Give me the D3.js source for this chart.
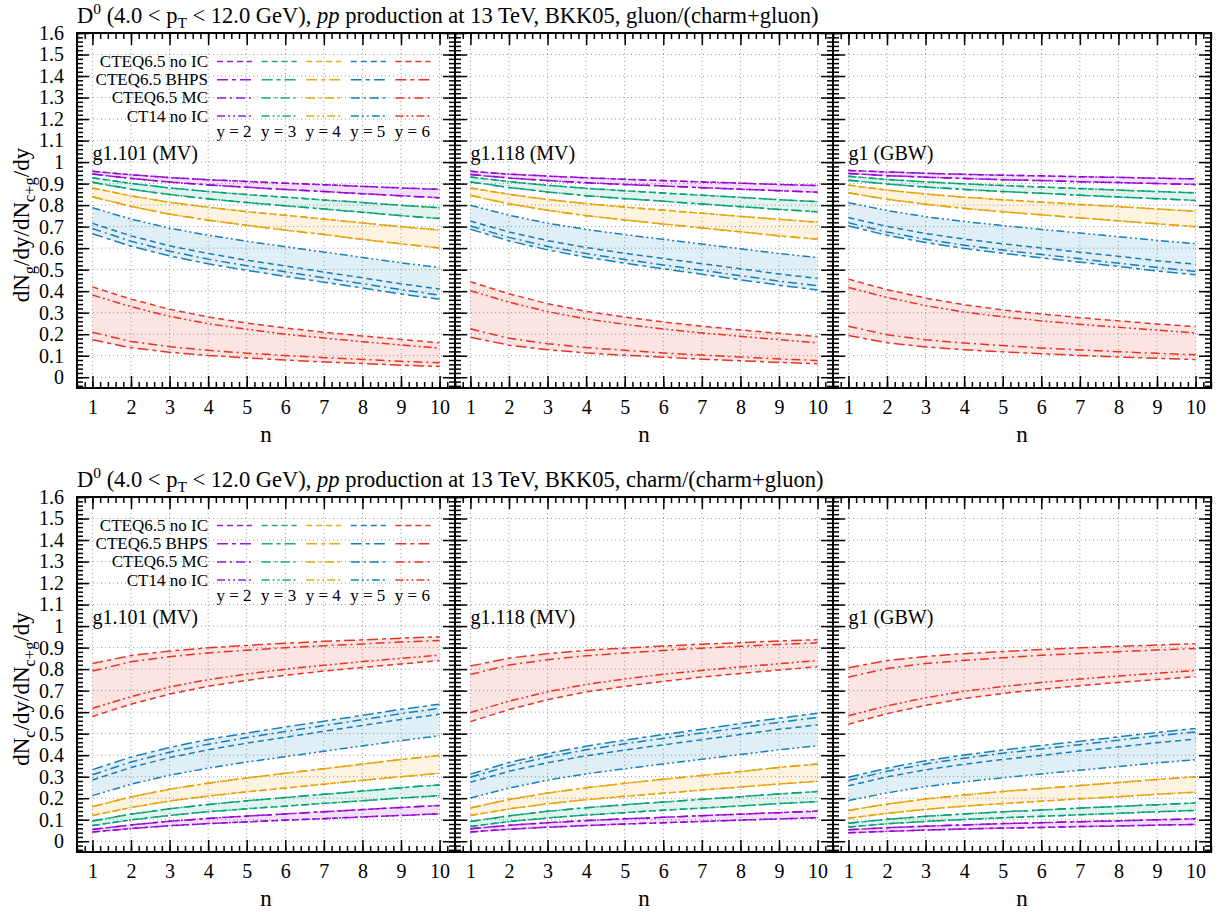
<!DOCTYPE html>
<html lang="en">
<head>
<meta charset="utf-8">
<title>D0 gluon / charm fractions</title>
<script src="https://cdn.jsdelivr.net/npm/d3@7"></script>
<style>
    body { margin: 0; background: #fff; }
    svg { display: block; }
    text { font-family: "Liberation Serif", "Times New Roman", serif; fill: #000; }
</style>
</head>
<body>
<svg id="chart" width="1224" height="912"></svg>
<script>
// ---- data ----
var nValues = [1, 2, 3, 4, 5, 6, 7, 8, 9, 10];
var xTicks = [1, 2, 3, 4, 5, 6, 7, 8, 9, 10];
var yTicks = [0, 0.1, 0.2, 0.3, 0.4, 0.5, 0.6, 0.7, 0.8, 0.9, 1, 1.1, 1.2, 1.3, 1.4, 1.5, 1.6];
var yTickLabels = ["0", "0.1", "0.2", "0.3", "0.4", "0.5", "0.6", "0.7", "0.8", "0.9", "1", "1.1", "1.2", "1.3", "1.4", "1.5", "1.6"];
var rapidities = ["y = 2", "y = 3", "y = 4", "y = 5", "y = 6"];
var pdfSets = ["CTEQ6.5 no IC", "CTEQ6.5 BHPS", "CTEQ6.5 MC", "CT14 no IC"];
var models = ["g1.101 (MV)", "g1.118 (MV)", "g1 (GBW)"];

// each array: [CTEQ6.5 no IC, CTEQ6.5 BHPS, CTEQ6.5 MC, CT14 no IC], values at n = 1..10
// gluon/(charm+gluon), g1.101 (MV)
var glu101_y2 = [[.957,.941,.928,.918,.910,.902,.895,.887,.880,.873],[.945,.924,.907,.894,.883,.873,.863,.853,.843,.834],[.945,.924,.907,.894,.883,.873,.863,.853,.843,.834],[.957,.941,.928,.918,.910,.902,.895,.887,.880,.873]];
var glu101_y3 = [[.927,.901,.880,.863,.849,.837,.824,.812,.799,.788],[.906,.874,.849,.829,.812,.797,.782,.767,.751,.738],[.906,.874,.849,.829,.812,.797,.782,.767,.751,.738],[.927,.901,.880,.863,.849,.837,.824,.812,.799,.788]];
var glu101_y4 = [[.880,.843,.813,.790,.770,.753,.735,.717,.700,.684],[.839,.794,.758,.730,.706,.684,.663,.641,.620,.601],[.839,.794,.758,.730,.706,.684,.663,.641,.620,.601],[.880,.843,.813,.790,.770,.753,.735,.717,.700,.684]];
var glu101_y5 = [[.715,.657,.611,.575,.544,.517,.489,.462,.434,.410],[.667,.609,.564,.527,.497,.469,.442,.415,.387,.363],[.691,.632,.586,.549,.518,.490,.462,.435,.407,.382],[.788,.735,.693,.660,.632,.607,.582,.557,.532,.510]];
var glu101_y6 = [[.420,.363,.316,.280,.252,.229,.209,.192,.176,.160],[.174,.137,.116,.101,.090,.080,.071,.064,.056,.050],[.209,.166,.142,.125,.112,.101,.091,.083,.074,.067],[.382,.328,.283,.249,.223,.200,.182,.165,.150,.135]];

// gluon/(charm+gluon), g1.118 (MV)
var glu118_y2 = [[.957,.944,.935,.927,.920,.914,.908,.902,.896,.891],[.942,.926,.914,.904,.896,.889,.881,.874,.867,.860],[.942,.926,.914,.904,.896,.889,.881,.874,.867,.860],[.957,.944,.935,.927,.920,.914,.908,.902,.896,.891]];
var glu118_y3 = [[.931,.909,.892,.878,.867,.856,.846,.836,.825,.816],[.908,.882,.861,.844,.830,.818,.805,.793,.780,.769],[.908,.882,.861,.844,.830,.818,.805,.793,.780,.769],[.931,.909,.892,.878,.867,.856,.846,.836,.825,.816]];
var glu118_y4 = [[.880,.850,.826,.807,.791,.777,.762,.748,.734,.721],[.845,.806,.776,.751,.731,.712,.694,.676,.657,.641],[.845,.806,.776,.751,.731,.712,.694,.676,.657,.641],[.880,.850,.826,.807,.791,.777,.762,.748,.734,.721]];
var glu118_y5 = [[.726,.675,.635,.603,.576,.552,.528,.504,.480,.459],[.688,.634,.592,.558,.530,.504,.479,.453,.428,.405],[.703,.650,.608,.575,.547,.522,.497,.472,.447,.425],[.799,.753,.716,.687,.663,.641,.619,.597,.575,.556]];
var glu118_y6 = [[.444,.388,.342,.306,.280,.257,.237,.220,.204,.189],[.186,.149,.128,.113,.102,.093,.084,.077,.069,.063],[.225,.181,.156,.138,.125,.113,.103,.094,.085,.078],[.402,.349,.305,.271,.246,.224,.206,.190,.175,.160]];

// gluon/(charm+gluon), g1 (GBW)
var gluGBW_y2 = [[.961,.954,.948,.943,.939,.936,.932,.929,.925,.922],[.947,.937,.930,.924,.918,.914,.909,.905,.900,.896],[.947,.937,.930,.924,.918,.914,.909,.905,.900,.896],[.961,.954,.948,.943,.939,.936,.932,.929,.925,.922]];
var gluGBW_y3 = [[.934,.919,.908,.899,.891,.884,.877,.870,.863,.857],[.916,.898,.884,.873,.863,.855,.846,.838,.830,.822],[.916,.898,.884,.873,.863,.855,.846,.838,.830,.822],[.934,.919,.908,.899,.891,.884,.877,.870,.863,.857]];
var gluGBW_y4 = [[.893,.870,.852,.837,.825,.814,.803,.793,.782,.772],[.857,.827,.804,.785,.769,.755,.741,.727,.713,.700],[.857,.827,.804,.785,.769,.755,.741,.727,.713,.700],[.893,.870,.852,.837,.825,.814,.803,.793,.782,.772]];
var gluGBW_y5 = [[.742,.701,.668,.642,.620,.601,.581,.562,.542,.525],[.703,.660,.626,.599,.576,.555,.535,.515,.494,.476],[.718,.675,.641,.614,.591,.571,.551,.530,.510,.492],[.811,.775,.746,.724,.705,.687,.670,.653,.636,.621]];
var gluGBW_y6 = [[.456,.407,.368,.337,.313,.294,.277,.262,.248,.235],[.194,.160,.141,.128,.118,.109,.101,.094,.088,.082],[.237,.197,.174,.159,.147,.136,.127,.119,.111,.104],[.417,.371,.333,.303,.281,.262,.246,.232,.219,.206]];

// charm/(charm+gluon), g1.101 (MV)
var cha101_y2 = [[.043,.059,.072,.082,.090,.098,.105,.113,.120,.127],[.055,.076,.093,.106,.117,.127,.137,.147,.157,.166],[.055,.076,.093,.106,.117,.127,.137,.147,.157,.166],[.043,.059,.072,.082,.090,.098,.105,.113,.120,.127]];
var cha101_y3 = [[.073,.099,.120,.137,.151,.163,.176,.188,.201,.212],[.094,.126,.151,.171,.188,.203,.218,.233,.249,.262],[.094,.126,.151,.171,.188,.203,.218,.233,.249,.262],[.073,.099,.120,.137,.151,.163,.176,.188,.201,.212]];
var cha101_y4 = [[.120,.157,.187,.210,.230,.247,.265,.283,.300,.316],[.161,.206,.242,.270,.294,.316,.337,.359,.380,.399],[.161,.206,.242,.270,.294,.316,.337,.359,.380,.399],[.120,.157,.187,.210,.230,.247,.265,.283,.300,.316]];
var cha101_y5 = [[.285,.343,.389,.425,.456,.483,.511,.538,.566,.590],[.333,.391,.436,.473,.503,.531,.558,.585,.613,.637],[.309,.368,.414,.451,.482,.510,.538,.565,.593,.618],[.212,.265,.307,.340,.368,.393,.418,.443,.468,.490]];
var cha101_y6 = [[.580,.637,.684,.720,.748,.771,.791,.808,.824,.840],[.826,.863,.884,.899,.910,.920,.929,.936,.944,.950],[.791,.834,.858,.875,.888,.899,.909,.917,.926,.933],[.618,.672,.717,.751,.777,.800,.818,.835,.850,.865]];

// charm/(charm+gluon), g1.118 (MV)
var cha118_y2 = [[.043,.056,.065,.073,.080,.086,.092,.098,.104,.109],[.058,.074,.086,.096,.104,.111,.119,.126,.133,.140],[.058,.074,.086,.096,.104,.111,.119,.126,.133,.140],[.043,.056,.065,.073,.080,.086,.092,.098,.104,.109]];
var cha118_y3 = [[.069,.091,.108,.122,.133,.144,.154,.164,.175,.184],[.092,.118,.139,.156,.170,.182,.195,.207,.220,.231],[.092,.118,.139,.156,.170,.182,.195,.207,.220,.231],[.069,.091,.108,.122,.133,.144,.154,.164,.175,.184]];
var cha118_y4 = [[.120,.150,.174,.193,.209,.223,.238,.252,.266,.279],[.155,.194,.224,.249,.269,.288,.306,.324,.343,.359],[.155,.194,.224,.249,.269,.288,.306,.324,.343,.359],[.120,.150,.174,.193,.209,.223,.238,.252,.266,.279]];
var cha118_y5 = [[.274,.325,.365,.397,.424,.448,.472,.496,.520,.541],[.312,.366,.408,.442,.470,.496,.521,.547,.572,.595],[.297,.350,.392,.425,.453,.478,.503,.528,.553,.575],[.201,.247,.284,.313,.337,.359,.381,.403,.425,.444]];
var cha118_y6 = [[.556,.612,.658,.694,.720,.743,.763,.780,.796,.811],[.814,.851,.872,.887,.898,.907,.916,.923,.931,.937],[.775,.819,.844,.862,.875,.887,.897,.906,.915,.922],[.598,.651,.695,.729,.754,.776,.794,.810,.825,.840]];

// charm/(charm+gluon), g1 (GBW)
var chaGBW_y2 = [[.039,.046,.052,.057,.061,.064,.068,.071,.075,.078],[.053,.063,.070,.076,.082,.086,.091,.095,.100,.104],[.053,.063,.070,.076,.082,.086,.091,.095,.100,.104],[.039,.046,.052,.057,.061,.064,.068,.071,.075,.078]];
var chaGBW_y3 = [[.066,.081,.092,.101,.109,.116,.123,.130,.137,.143],[.084,.102,.116,.127,.137,.145,.154,.162,.170,.178],[.084,.102,.116,.127,.137,.145,.154,.162,.170,.178],[.066,.081,.092,.101,.109,.116,.123,.130,.137,.143]];
var chaGBW_y4 = [[.107,.130,.148,.163,.175,.186,.197,.207,.218,.228],[.143,.173,.196,.215,.231,.245,.259,.273,.287,.300],[.143,.173,.196,.215,.231,.245,.259,.273,.287,.300],[.107,.130,.148,.163,.175,.186,.197,.207,.218,.228]];
var chaGBW_y5 = [[.258,.299,.332,.358,.380,.399,.419,.438,.458,.475],[.297,.340,.374,.401,.424,.445,.465,.485,.506,.524],[.282,.325,.359,.386,.409,.429,.449,.470,.490,.508],[.189,.225,.254,.276,.295,.313,.330,.347,.364,.379]];
var chaGBW_y6 = [[.544,.593,.632,.663,.687,.706,.723,.738,.752,.765],[.806,.840,.859,.872,.882,.891,.899,.906,.912,.918],[.763,.803,.826,.841,.853,.864,.873,.881,.889,.896],[.583,.629,.667,.697,.719,.738,.754,.768,.781,.794]];

// ---- styling ----
var colors = ["#9400d3", "#009e73", "#e69f00", "#0072b2", "#e51e10"];
var dashes = ["6,4", "11,4,4,4", "9,4,2,4", "8,3,2,3,2,3"];

var svg = d3.select("#chart");
var width = 1224, height = 912;
var panelLeft = [77, 455, 833];
var panelW = 378;
var rowTop = [33, 497];
var panelH = 355;

var panels = [
    { row: 0, col: 0, series: [glu101_y2, glu101_y3, glu101_y4, glu101_y5, glu101_y6] },
    { row: 0, col: 1, series: [glu118_y2, glu118_y3, glu118_y4, glu118_y5, glu118_y6] },
    { row: 0, col: 2, series: [gluGBW_y2, gluGBW_y3, gluGBW_y4, gluGBW_y5, gluGBW_y6] },
    { row: 1, col: 0, series: [cha101_y2, cha101_y3, cha101_y4, cha101_y5, cha101_y6] },
    { row: 1, col: 1, series: [cha118_y2, cha118_y3, cha118_y4, cha118_y5, cha118_y6] },
    { row: 1, col: 2, series: [chaGBW_y2, chaGBW_y3, chaGBW_y4, chaGBW_y5, chaGBW_y6] }
];

var minorX = d3.range(0.6, 10.41, 0.2).map(function(v) { return +v.toFixed(2); });
var minorY = d3.range(-0.04, 1.601, 0.02).map(function(v) { return +v.toFixed(2); });

var defs = svg.append("defs");

panels.forEach(function(p, pi) {
    var left = panelLeft[p.col], top = rowTop[p.row];
    var x = d3.scaleLinear().domain([0.6, 10.4]).range([left, left + panelW]);
    var y = d3.scaleLinear().domain([-0.05, 1.6]).range([top + panelH, top]);
    var g = svg.append("g");

    defs.append("clipPath").attr("id", "clip" + pi)
        .append("rect").attr("x", left).attr("y", top).attr("width", panelW).attr("height", panelH);

    // grid
    g.append("g").selectAll("line.gx").data(xTicks).enter().append("line")
        .attr("x1", function(d) { return x(d); }).attr("x2", function(d) { return x(d); })
        .attr("y1", top).attr("y2", top + panelH)
        .attr("stroke", "#9a9a9a").attr("stroke-width", 1).attr("stroke-dasharray", "1,3");
    g.append("g").selectAll("line.gy").data(yTicks).enter().append("line")
        .attr("x1", left).attr("x2", left + panelW)
        .attr("y1", function(d) { return y(d); }).attr("y2", function(d) { return y(d); })
        .attr("stroke", "#9a9a9a").attr("stroke-width", 1).attr("stroke-dasharray", "1,3");

    var plot = g.append("g").attr("clip-path", "url(#clip" + pi + ")");

    // bands
    var area = d3.area()
        .x(function(d, i) { return x(nValues[i]); })
        .y0(function(d) { return y(d[0]); })
        .y1(function(d) { return y(d[1]); });
    p.series.forEach(function(sets, ci) {
        var band = nValues.map(function(n, i) {
            var vals = sets.map(function(s) { return s[i]; });
            return [d3.min(vals), d3.max(vals)];
        });
        plot.append("path").datum(band).attr("d", area)
            .attr("fill", colors[ci]).attr("fill-opacity", 0.12).attr("stroke", "none");
    });

    // lines
    var line = d3.line()
        .x(function(d, i) { return x(nValues[i]); })
        .y(function(d) { return y(d); });
    p.series.forEach(function(sets, ci) {
        sets.forEach(function(s, si) {
            plot.append("path").datum(s).attr("d", line)
                .attr("fill", "none").attr("stroke", colors[ci])
                .attr("stroke-width", 1.5).attr("stroke-opacity", 0.9)
                .attr("stroke-dasharray", dashes[si]);
        });
    });

    // ticks on all four sides, pointing inwards
    function addAxis(axis, tx, ty, labels) {
        var a = g.append("g").attr("transform", "translate(" + tx + "," + ty + ")").call(axis);
        a.select(".domain").remove();
        a.selectAll("line").attr("stroke", "#000").attr("stroke-width", 1.5);
        if (!labels) a.selectAll("text").remove();
        return a;
    }
    var yLabelsOn = p.col === 0;
    var ax = addAxis(d3.axisLeft(y).tickValues(yTicks).tickSize(-12).tickPadding(13)
        .tickFormat(function(d, i) { return yTickLabels[i]; }), left, 0, yLabelsOn);
    ax.selectAll("text").style("font-size", "20px").style("font-family", "Liberation Serif");
    addAxis(d3.axisLeft(y).tickValues(minorY).tickSize(-6).tickFormat(""), left, 0, false);
    addAxis(d3.axisRight(y).tickValues(yTicks).tickSize(-12).tickFormat(""), left + panelW, 0, false);
    addAxis(d3.axisRight(y).tickValues(minorY).tickSize(-6).tickFormat(""), left + panelW, 0, false);
    var bx = addAxis(d3.axisBottom(x).tickValues(xTicks).tickSize(-12).tickPadding(12), 0, top + panelH, true);
    bx.selectAll("text").style("font-size", "20px").style("font-family", "Liberation Serif");
    addAxis(d3.axisBottom(x).tickValues(minorX).tickSize(-6).tickFormat(""), 0, top + panelH, false);
    addAxis(d3.axisTop(x).tickValues(xTicks).tickSize(-12).tickFormat(""), 0, top, false);
    addAxis(d3.axisTop(x).tickValues(minorX).tickSize(-6).tickFormat(""), 0, top, false);

    // frame
    g.append("rect").attr("x", left).attr("y", top).attr("width", panelW).attr("height", panelH)
        .attr("fill", "none").attr("stroke", "#000").attr("stroke-width", 2);

    // x label
    g.append("text").attr("x", left + panelW / 2).attr("y", top + panelH + 54)
        .attr("text-anchor", "middle").style("font-size", "23px").text("n");

    // model label
    g.append("text").attr("x", x(1)).attr("y", top + 127)
        .style("font-size", "20px").text(models[p.col]);

    // legend in first panel of the row
    if (p.col === 0) {
        var lg = g.append("g");
        pdfSets.forEach(function(name, si) {
            var ly = top + 28.5 + si * 18.2;
            lg.append("text").attr("x", left + 131).attr("y", ly + 5.5)
                .attr("text-anchor", "end").style("font-size", "17px").text(name);
            colors.forEach(function(c, ci) {
                var x0 = left + 140 + ci * 44.6;
                lg.append("line").attr("x1", x0).attr("x2", x0 + 35)
                    .attr("y1", ly).attr("y2", ly)
                    .attr("stroke", c).attr("stroke-width", 1.5).attr("stroke-opacity", 0.9)
                    .attr("stroke-dasharray", dashes[si]);
            });
        });
        rapidities.forEach(function(r, ci) {
            lg.append("text").attr("x", left + 157 + ci * 44.6).attr("y", top + 104)
                .attr("text-anchor", "middle").style("font-size", "17px").text(r);
        });
    }
});

// titles
var titleEnds = ["gluon/(charm+gluon)", "charm/(charm+gluon)"];
rowTop.forEach(function(top, ri) {
    var t = svg.append("text").attr("x", 77).attr("y", top - 10).style("font-size", "22.5px");
    t.append("tspan").text("D");
    t.append("tspan").attr("dy", -9).style("font-size", "15.5px").text("0");
    t.append("tspan").attr("dy", 9).text(" (4.0 < p");
    t.append("tspan").attr("dy", 5).style("font-size", "15.5px").text("T");
    t.append("tspan").attr("dy", -5).text(" < 12.0 GeV), ");
    t.append("tspan").style("font-style", "italic").text("pp");
    t.append("tspan").text(" production at 13 TeV, BKK05, " + titleEnds[ri]);

    // y axis title
    var sub = ri === 0 ? "g" : "c";
    var yl = svg.append("text")
        .attr("transform", "translate(29," + (top + 192) + ") rotate(-90)")
        .attr("text-anchor", "middle").style("font-size", "23px");
    yl.append("tspan").text("dN");
    yl.append("tspan").attr("dy", 6).style("font-size", "16.5px").text(sub);
    yl.append("tspan").attr("dy", -6).text("/dy/dN");
    yl.append("tspan").attr("dy", 6).style("font-size", "16.5px").text("c+g");
    yl.append("tspan").attr("dy", -6).text("/dy");
});
</script>
</body>
</html>
